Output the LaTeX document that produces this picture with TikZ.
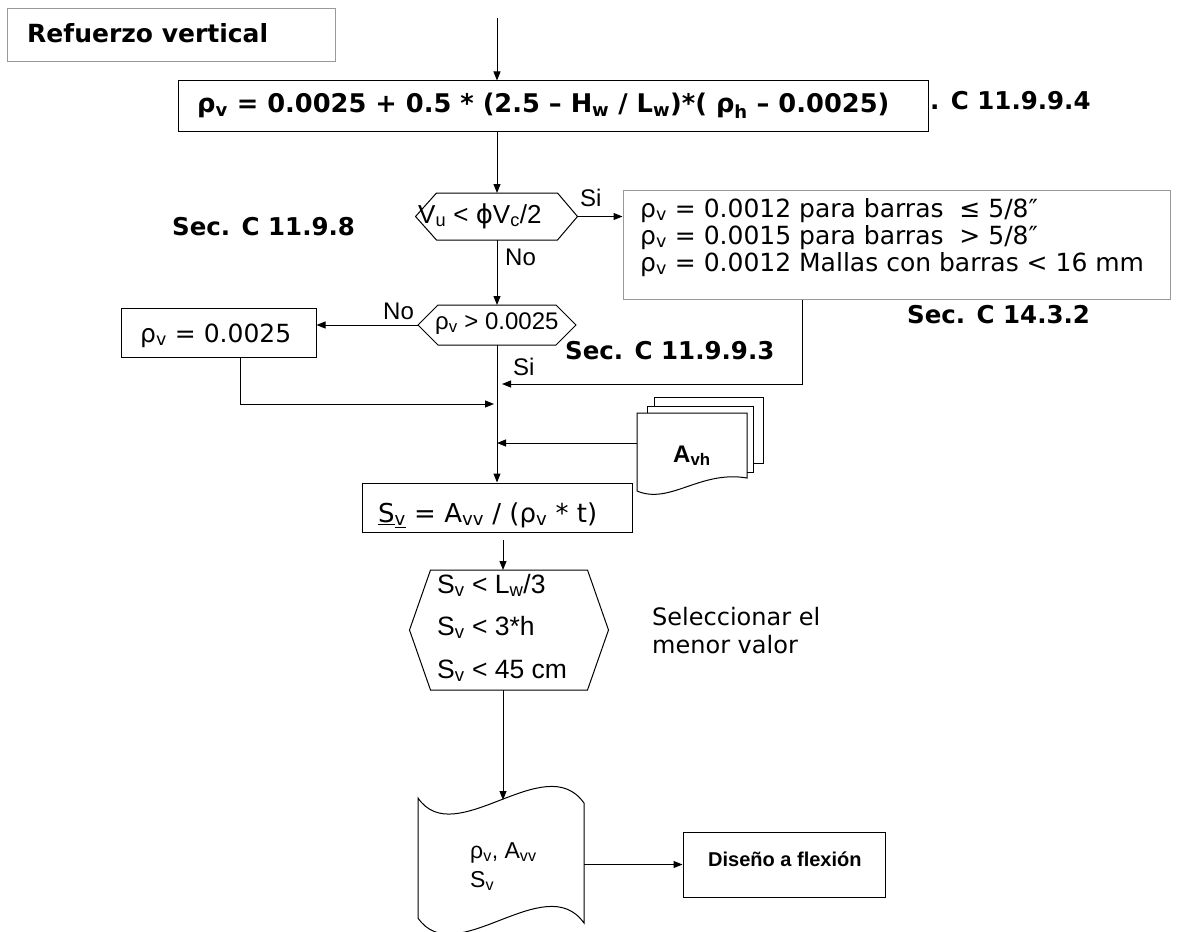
\documentclass[tikz,border=0pt]{standalone}
\usepackage{fontspec}
\setmainfont{DejaVu Sans}
\newfontfamily\arialf{Liberation Sans}
\newfontfamily\djv{DejaVu Sans}
\usetikzlibrary{arrows.meta,calc}
\newcommand{\dn}[1]{\textsubscript{#1}}
\newcommand{\fsz}[1]{\fontsize{#1}{#1}\selectfont}
\begin{document}
\begin{tikzpicture}[x=1pt,y=-1pt,
  ln/.style={line width=1pt, draw=black},
  arr/.style={ln, -{Triangle[length=9pt,width=7pt]}},
  gframe/.style={draw=black!40, line width=1pt, inner sep=0pt},
  bframe/.style={draw=black, line width=1pt, inner sep=0pt},
  txt/.style={inner sep=0pt, anchor=base west},
  hexn/.style={inner sep=0pt, outer sep=0pt},
]
\useasboundingbox (0,0) rectangle (1198,931);

% ---------- boxes ----------
\node[gframe, minimum width=328, minimum height=53] (title) at (171,35.5) {};
\node[bframe, minimum width=750, minimum height=50] (form) at (553,106) {};
\node[gframe, minimum width=547, minimum height=109] (box3) at (896.5,244.5) {};
\node[bframe, minimum width=195, minimum height=49] (rho) at (218.5,332.5) {};
\node[bframe, minimum width=270, minimum height=49] (sv) at (497,507.5) {};
\node[bframe, minimum width=202, minimum height=65] (dis) at (784,864.5) {};

% ---------- hexagons ----------
\node[hexn, minimum width=121, minimum height=47] (h1) at (497,216.5) {};
\node[hexn, minimum width=118, minimum height=40] (h2) at (497,325) {};
\node[hexn, minimum width=157, minimum height=120] (h3) at (509,630) {};
\draw[ln] ([xshift=-21pt]h1.west) -- (h1.north west) -- (h1.north east) -- ([xshift=20pt]h1.east) -- (h1.south east) -- (h1.south west) -- cycle;
\draw[ln] ([xshift=-20pt]h2.west) -- (h2.north west) -- (h2.north east) -- ([xshift=20pt]h2.east) -- (h2.south east) -- (h2.south west) -- cycle;
\draw[ln] ([xshift=-21pt]h3.west) -- (h3.north west) -- (h3.north east) -- ([xshift=21pt]h3.east) -- (h3.south east) -- (h3.south west) -- cycle;

% ---------- document stack (A_vh) ----------
\node[hexn, minimum width=110, minimum height=80] (doc) at (692,453) {};
\draw[ln, fill=white] (654,397) -- (763,397) -- (763,463) -- (654,463) -- cycle;
\draw[ln, fill=white] (647,406) -- (753,406) -- (753,472) -- (647,472) -- cycle;
\draw[ln, fill=white] (637,413) -- (747,413) -- (747,478)
   .. controls (700,470) and (670,505) .. (637,491) -- cycle;

% ---------- storage (tape) ----------
\node[hexn, minimum width=166, minimum height=125] (stor) at (501,860) {};
\draw[ln] (418,798) .. controls (455,852) and (545,748) .. (584,803)
   -- (584,923) .. controls (545,868) and (455,972) .. (418,918) -- cycle;

% ---------- connectors ----------
\coordinate (start) at (497,18);
\coordinate (j1) at (802,384);
\coordinate (j2) at (240,404);
\coordinate (dl) at (637,443);
\coordinate (a3) at (503,540);
\coordinate (st) at (503,800);
\draw[arr] (start) -- (start |- form.north);
\draw[arr] (form.south -| h1.north) -- (h1.north);
\draw[arr] ([xshift=20pt]h1.east) -- (box3.west |- h1.east);
\draw[arr] (h1.south) -- (h2.north);
\draw[arr] ([xshift=-20pt]h2.west) -- (rho.east |- h2.west);
\draw[arr] (h2.south) -- (sv.north);
\draw[arr] (box3.south -| j1) -- (j1) -- ([xshift=5pt]j1 -| h2.south);
\draw[arr] (rho.south -| j2) -- (j2) -- ([xshift=-3pt]j2 -| h2.south);
\draw[arr] (dl) -- (dl -| h2.south);
\draw[arr] (a3) -- (a3 |- h3.north);
\draw[arr] (a3 |- h3.south) -- (st);
\draw[arr] (stor.east |- dis.west) -- (dis.west);

% ---------- texts ----------
\node[txt] at (27,43) {\fsz{25}\bfseries Refuerzo vertical};
\node[txt] at (197,113) {\fsz{25.7}\bfseries ρ\dn{v} = 0.0025 + 0.5 * (2.5 – H\dn{w} / L\dn{w})*( ρ\dn{h} – 0.0025)};
\node[txt] at (930,110) {\fsz{24.5}\bfseries . C 11.9.9.4};
\node[txt] at (172,235) {\fsz{24.5}\bfseries Sec. C 11.9.8};
\node[txt] at (907,323) {\fsz{24.5}\bfseries Sec. C 14.3.2};
\node[txt] at (565,359) {\fsz{24.5}\bfseries Sec. C 11.9.9.3};

\node[txt] at (418,223) {\arialf\fsz{26}V\dn{u} < {\djv ϕ}V\dn{c}/2};
\node[txt] at (580,206) {\arialf\fsz{24}Si};
\node[txt] at (505,265) {\arialf\fsz{24}No};

\node[txt] at (640,217) {\fsz{25}ρ\dn{v} = 0.0012 para barras \ ≤ 5/8″};
\node[txt] at (640,244) {\fsz{25}ρ\dn{v} = 0.0015 para barras \ > 5/8″};
\node[txt] at (640,271) {\fsz{25}ρ\dn{v} = 0.0012 Mallas con barras < 16 mm};

\node[txt] at (435,329) {\arialf\fsz{24}ρ\dn{v} > 0.0025};
\node[txt] at (383,319) {\arialf\fsz{24}No};
\node[txt] at (140,342) {\fsz{25}ρ\dn{v} = 0.0025};
\node[txt] at (513,375) {\arialf\fsz{24}Si};

\node[txt] at (673,462) {\arialf\fsz{24}\bfseries A\dn{vh}};

\node[txt] at (378,522) {\fsz{26}\underline{S}\underline{\dn{v}} = A\dn{vv} / (ρ\dn{v} * t)};

\node[txt] at (437,593) {\arialf\fsz{26.5}S\dn{v} < L\dn{w}/3};
\node[txt] at (437,635) {\arialf\fsz{26.5}S\dn{v} < 3*h};
\node[txt] at (437,678) {\arialf\fsz{26.5}S\dn{v} < 45 cm};

\node[txt] at (652,625) {\fsz{24}Seleccionar el};
\node[txt] at (652,653) {\fsz{24}menor valor};

\node[txt] at (470,858) {\arialf\fsz{23}ρ\dn{v}, A\dn{vv}};
\node[txt] at (470,887) {\arialf\fsz{23}S\dn{v}};

\node[txt] at (708,866) {\arialf\fsz{20}\bfseries Diseño a flexión};
\end{tikzpicture}
\end{document}
